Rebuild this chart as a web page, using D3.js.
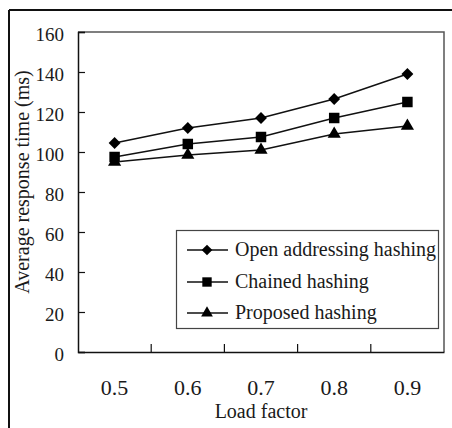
<!DOCTYPE html>
<html>
<head>
<meta charset="utf-8">
<script src="https://cdn.jsdelivr.net/npm/d3@7"></script>
<style>
  body { margin: 0; background: #fff; }
  text { font-family: "Liberation Serif", "Times New Roman", serif; fill: #1a1a1a; }
</style>
</head>
<body>
<div id="chart"></div>
<script>
// data
var categories = ["0.5", "0.6", "0.7", "0.8", "0.9"];
var openAddressing = [104.5, 112, 117, 126.5, 139];
var chainedHashing = [97.5, 104, 107.5, 117, 125];
var proposedHashing = [95, 98.5, 101, 109, 113];
var yTicks = [0, 20, 40, 60, 80, 100, 120, 140, 160];
var seriesNames = ["Open addressing hashing", "Chained hashing", "Proposed hashing"];
var seriesShapes = [d3.symbolDiamond2, d3.symbolSquare, d3.symbolTriangle];

var W = 452, H = 428;
var plot = {left: 78, top: 32, right: 444, bottom: 352};

var svg = d3.select("#chart").append("svg")
    .attr("width", W)
    .attr("height", H);

// outer frame (only top + left edges show)
svg.append("line").attr("x1", 9).attr("x2", W).attr("y1", 10).attr("y2", 10)
    .attr("stroke", "#111").attr("stroke-width", 2);
svg.append("line").attr("x1", 9).attr("x2", 9).attr("y1", 10).attr("y2", H)
    .attr("stroke", "#111").attr("stroke-width", 2);

var x = d3.scaleBand().domain(categories).range([plot.left, plot.right]).padding(0);
var y = d3.scaleLinear().domain([0, 160]).range([plot.bottom, plot.top]);

// top / right border of plot
svg.append("path")
    .attr("d", "M" + plot.left + "," + plot.top + "H" + plot.right + "V" + plot.bottom)
    .attr("fill", "none").attr("stroke", "#555").attr("stroke-width", 1.5);

// y axis
var yAxis = svg.append("g")
    .attr("transform", "translate(" + plot.left + ",0)")
    .call(d3.axisLeft(y).tickValues(yTicks).tickSize(-7).tickPadding(14).tickFormat(d3.format("d")));
yAxis.select(".domain").attr("stroke", "#111").attr("stroke-width", 1.5);
yAxis.selectAll(".tick line").attr("stroke", "#111").attr("stroke-width", 1.2);
yAxis.selectAll(".tick text")
    .style("font-family", "'Liberation Serif', serif")
    .attr("font-size", 19).attr("dy", "0.45em").attr("fill", "#1a1a1a");

// x axis (labels centred in bands, ticks at band edges)
var xAxis = svg.append("g")
    .attr("transform", "translate(0," + plot.bottom + ")")
    .call(d3.axisBottom(x).tickSize(0).tickPadding(27));
xAxis.select(".domain").attr("stroke", "#111").attr("stroke-width", 1.5);
xAxis.selectAll(".tick text")
    .style("font-family", "'Liberation Serif', serif")
    .attr("font-size", 22).attr("fill", "#1a1a1a");

var edges = categories.slice(1).map(function(c) { return x(c); });
svg.selectAll(".xedge").data(edges).enter().append("line")
    .attr("class", "xedge")
    .attr("x1", function(d) { return d; }).attr("x2", function(d) { return d; })
    .attr("y1", plot.bottom).attr("y2", plot.bottom - 8)
    .attr("stroke", "#111").attr("stroke-width", 1.2);

// axis titles
svg.append("text")
    .attr("x", (plot.left + plot.right) / 2).attr("y", 418)
    .attr("text-anchor", "middle").attr("font-size", 20)
    .text("Load factor");
svg.append("text")
    .attr("transform", "translate(29,182) rotate(-90)")
    .attr("text-anchor", "middle").attr("font-size", 20)
    .text("Average response time (ms)");

// series
var series = [openAddressing, chainedHashing, proposedHashing];
var line = d3.line()
    .x(function(d, i) { return x(categories[i]) + x.bandwidth() / 2; })
    .y(function(d) { return y(d); });
var symSizes = [90, 110, 75];

series.forEach(function(vals, s) {
    svg.append("path")
        .datum(vals)
        .attr("d", line)
        .attr("fill", "none")
        .attr("stroke", "#111")
        .attr("stroke-width", 1.5);
    svg.selectAll(".m" + s).data(vals).enter().append("path")
        .attr("class", "m" + s)
        .attr("d", d3.symbol().type(seriesShapes[s]).size(symSizes[s]))
        .attr("transform", function(d, i) {
            return "translate(" + (x(categories[i]) + x.bandwidth() / 2) + "," + y(d) + ")";
        })
        .attr("fill", "#000");
});

// legend
var lg = svg.append("g");
lg.append("rect")
    .attr("x", 176.5).attr("y", 230.5).attr("width", 262).attr("height", 98)
    .attr("fill", "#fff").attr("stroke", "#444").attr("stroke-width", 1.2);
var rowY = [250, 282, 313];
seriesNames.forEach(function(name, s) {
    lg.append("line")
        .attr("x1", 187).attr("x2", 228).attr("y1", rowY[s]).attr("y2", rowY[s])
        .attr("stroke", "#111").attr("stroke-width", 1.5);
    lg.append("path")
        .attr("d", d3.symbol().type(seriesShapes[s]).size(symSizes[s] * 0.8))
        .attr("transform", "translate(207," + rowY[s] + ")")
        .attr("fill", "#000");
    lg.append("text")
        .attr("x", 235).attr("y", rowY[s] + 6)
        .attr("font-size", 20)
        .text(name);
});
</script>
</body>
</html>
